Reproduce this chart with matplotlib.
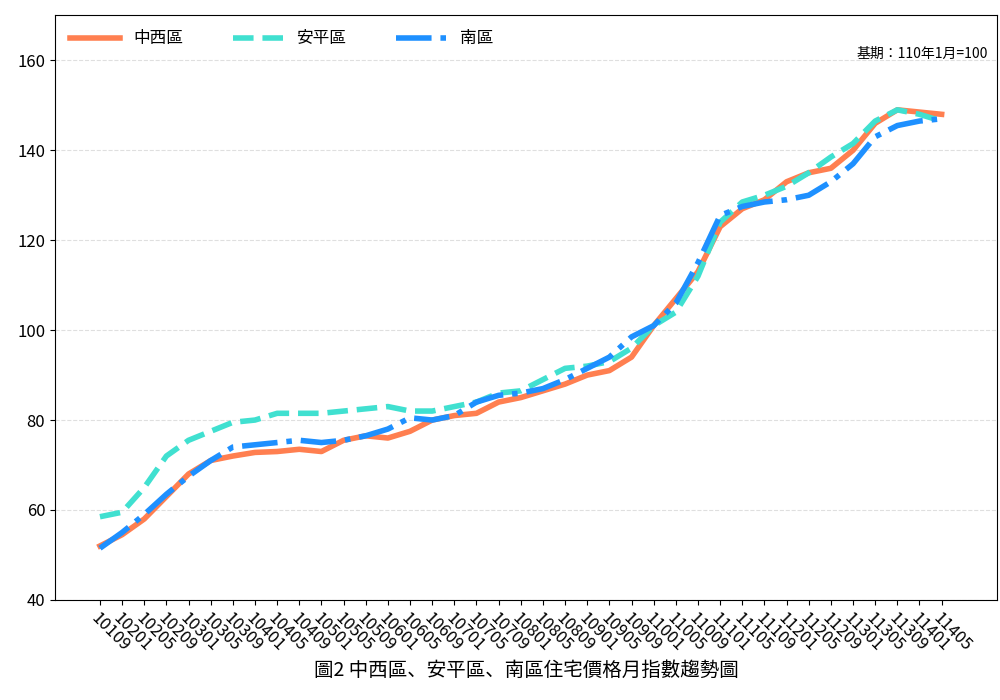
import matplotlib
matplotlib.use("Agg")
import matplotlib.pyplot as plt
from matplotlib import font_manager

names = {f.name for f in font_manager.fontManager.ttflist}
cjk = [n for n in ["Noto Sans CJK TC", "Noto Sans CJK JP", "Noto Sans CJK SC", "Noto Sans CJK KR"] if n in names]
plt.rcParams["font.family"] = cjk + ["DejaVu Sans"]

labels = ["10109","10201","10205","10209","10301","10305","10309","10401","10405","10409",
          "10501","10505","10509","10601","10605","10609","10701","10705","10709","10801",
          "10805","10809","10901","10905","10909","11001","11005","11009","11101","11105",
          "11109","11201","11205","11209","11301","11305","11309","11401","11405"]
zhongxi = [52,54.5,58,63,68,71,72,72.8,73,73.5,73,75.5,76.5,76,77.5,80,81,81.5,84,85,
           86.5,88,90,91,94,101,107,113,123,127,129,133,135,136,140,146,149,148.5,148]
anping = [58.5,59.5,65,72,75.5,77.5,79.5,80,81.5,81.5,81.5,82,82.5,83,82,82,83,84,86,86.5,
          89,91.5,92,93,96,101,104,112,124,128.5,130,132,135,138.5,141.5,146.5,149,148,146.5]
nanqu = [51.5,55,59,63.5,67.5,71,74,74.5,75,75.5,75,75.5,76.5,78,80.5,80,81,84,85.5,86,
         87,89,91.5,94,98.5,101,106,115,125.5,127.5,128.5,129,130,133,137,143,145.5,146.5,147]

fig, ax = plt.subplots(figsize=(10, 7), dpi=100)
fig.subplots_adjust(left=0.055, right=0.997, top=0.978, bottom=0.143)
x = list(range(len(labels)))
ax.plot(x, zhongxi, color="#FF7F50", lw=4, ls="-", label="中西區")
ax.plot(x, anping, color="#40E0D0", lw=4, ls="--", label="安平區")
ax.plot(x, nanqu, color="#1E90FF", lw=4, ls="-.", label="南區")
ax.set_xticks(x)
ax.set_xticklabels(labels, rotation=-45, ha="left", rotation_mode="anchor", fontsize=12)
ax.tick_params(axis="y", labelsize=12)
ax.set_ylim(40, 170)
ax.set_xlim(-2.03, 40.5)
ax.grid(axis="y", ls="--", alpha=0.4)
ax.legend(loc="upper left", ncol=3, frameon=False, fontsize=12, handlelength=3, columnspacing=3)
ax.text(0.99, 0.935, "基期：110年1月=100", transform=ax.transAxes, ha="right", va="center", fontsize=10)
ax.set_xlabel("圖2 中西區、安平區、南區住宅價格月指數趨勢圖", fontsize=14)
fig.savefig("out.png")
